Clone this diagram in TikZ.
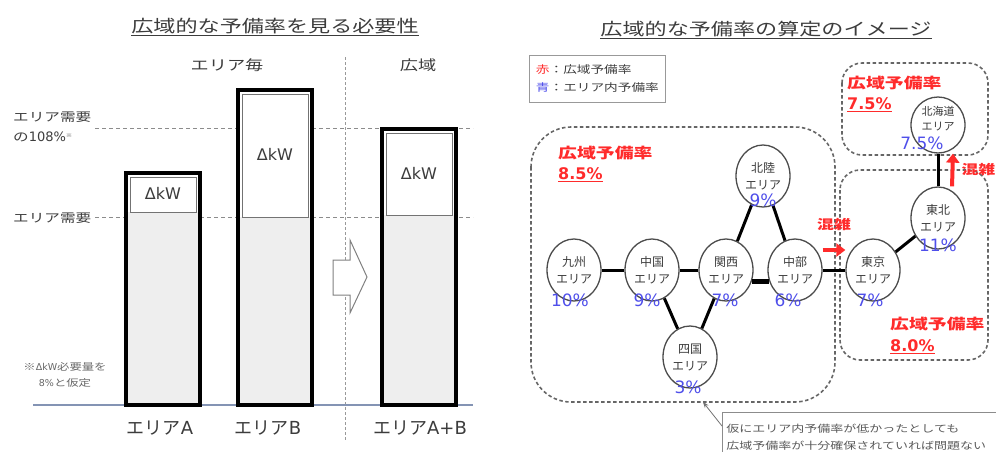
\documentclass[tikz,border=0pt]{standalone}
\usepackage{fontspec}
\setmainfont{DejaVu Sans}
\newfontfamily\jp{Noto Sans CJK JP}
\newfontfamily\jpw[FakeStretch=1.3]{Noto Sans CJK JP}
\usetikzlibrary{shapes.geometric,arrows.meta,positioning}
\definecolor{txtgray}{HTML}{3C3C3C}
\definecolor{jamred}{HTML}{FF2B2B}
\definecolor{pctblue}{HTML}{4F4FEA}
\definecolor{baseblue}{HTML}{8494B4}
\definecolor{barfill}{HTML}{EEEEEE}

\begin{document}
\begin{tikzpicture}[x=1pt,y=-1pt,on grid,
  heading/.style={font=\jpw\fontsize{17}{17}\selectfont,inner sep=0pt,text=txtgray},
  axislbl/.style={font=\jpw\fontsize{12}{16}\selectfont,inner sep=0pt,anchor=west,text=txtgray},
  guide/.style={black!45,line width=0.8pt,dash pattern=on 4pt off 3pt},
  bar/.style={line width=4pt},
  dkwbox/.style={draw=black!55,line width=1pt,fill=white},
  area/.style={ellipse,draw=black!70,line width=1.3pt,fill=white,minimum width=54pt,minimum height=62pt,
    inner sep=0pt,align=center,font=\jp\fontsize{12}{17}\selectfont,text=txtgray},
  pct/.style={font=\fontsize{17}{17}\selectfont,text=pctblue,inner sep=0pt},
  link/.style={line width=3pt},
  jam/.style={jamred,line width=4pt,-{Triangle[length=9pt,width=13pt]}},
  jamtxt/.style={font=\jpw\bfseries\fontsize{13}{13}\selectfont,text=jamred,inner sep=0pt},
  zone/.style={black!60,line width=1.6pt,dash pattern=on 3.5pt off 2.5pt,rounded corners=#1},
  ratehead/.style={font=\jpw\bfseries\fontsize{14.5}{14.5}\selectfont,text=jamred,inner sep=0pt,anchor=west},
  rateval/.style={font=\bfseries\fontsize{16}{16}\selectfont,text=jamred,inner sep=0pt},
]
\useasboundingbox (0,0) rectangle (996,451);

% ---- left: why a wide-area margin is needed
\node[heading] (titleL) at (275,26) {広域的な予備率を見る必要性};
\draw[txtgray,line width=0.8pt] ([yshift=-1pt]titleL.south west) -- ([yshift=-1pt]titleL.south east);
\node[heading,font=\jpw\fontsize{14}{14}\selectfont] (perarea) at (227,65) {エリア毎};
\node[heading,font=\jpw\fontsize{14}{14}\selectfont] (wide) at (418,65) {広域};
\draw[black!40,line width=0.8pt,dash pattern=on 3pt off 2pt] (345,57) -- (345,440);

\draw[guide] (95,128) -- (473,128);
\draw[guide] (95,217) -- (473,217);
\draw[baseblue,line width=1.2pt] (33,405) -- (473,405);
\node[axislbl] (lvlhi) at (13,117) {エリア需要};
\node[axislbl] (lvlhi2) at (13,137) {の{\normalfont\fontsize{13}{13}\selectfont 108\%}\textsuperscript{\tiny ※}};
\node[axislbl] (lvllo) at (13,218) {エリア需要};
\node[font=\jpw\fontsize{9.5}{16}\selectfont,text=black!60,align=center,inner sep=0pt] (note1) at (65,375)
  {※{\normalfont ΔkW}必要量を\\{\normalfont 8\%}と仮定};

\foreach \l/\t/\m/\n in {126/173/212/a,238/90/217/b,382/129/215/ab}{
  \fill[barfill] (\l,\m) rectangle (\l+74,405);
  \draw[dkwbox] (\l+4,\t+4) rectangle (\l+70,\m);
  \node[font=\fontsize{16}{16}\selectfont,text=txtgray] (dkw\n) at (\l+37,{(\t+\m)/2+1}) {ΔkW};
  \draw[bar] (\l,\t) rectangle (\l+74,405);
}
\draw[black!50,fill=white,line width=1pt] (333,260) -- (350,260) -- (350,240) -- (367,277)
  -- (350,313) -- (350,295) -- (333,295) -- cycle;

\node[font=\jp\fontsize{18}{18}\selectfont,text=txtgray] (barA) at (160,428) {エリア{\normalfont A}};
\node[font=\jp\fontsize{18}{18}\selectfont,text=txtgray] (barB) at (268,428) {エリア{\normalfont B}};
\node[font=\jp\fontsize{18}{18}\selectfont,text=txtgray] (barAB) at (420,428) {エリア{\normalfont A+B}};

% ---- right: wide-area margin by interconnected areas
\node[heading] (titleR) at (766,29) {広域的な予備率の算定のイメージ};
\draw[txtgray,line width=0.8pt] ([yshift=-1pt]titleR.south west) -- ([yshift=-1pt]titleR.south east);
\node[draw=black!40,line width=0.8pt,anchor=north west,minimum width=136pt,minimum height=47pt,align=left,
  inner sep=5pt,font=\jpw\fontsize{10.5}{18}\selectfont,text=txtgray] (key) at (529,55)
  {\textcolor{jamred}{赤}：広域予備率\\\textcolor{pctblue}{青}：エリア内予備率};

\draw[zone=40] (531,127) rectangle (835,402);
\draw[zone=20] (842,63) rectangle (988,155);
\draw[zone=20] (840,170) rectangle (988,360);

\node[area] (kyushu) at (574,270) {九州\\エリア};
\node[area,right=78pt of kyushu] (chugoku) {中国\\エリア};
\node[area,right=74pt of chugoku] (kansai) {関西\\エリア};
\node[area,right=69pt of kansai] (chubu) {中部\\エリア};
\node[area,right=78pt of chubu] (tokyo) {東京\\エリア};
\node[area,below right=87pt and 38pt of chugoku] (shikoku) {四国\\エリア};
\node[area,above right=94pt and 37pt of kansai] (hokuriku) {北陸\\エリア};
\node[area,above right=52pt and 65pt of tokyo] (tohoku) {東北\\エリア};
\node[area,above=93pt of tohoku,minimum height=56pt,font=\jp\fontsize{11}{15}\selectfont,text depth=13pt]
  (hokkaido) {北海道\\エリア};

\foreach \a/\b in {kyushu/chugoku,chugoku/kansai,chubu/tokyo,chugoku/shikoku,shikoku/kansai,
  kansai/hokuriku,hokuriku/chubu,tokyo/tohoku,tohoku/hokkaido}
  \draw[link] (\a) -- (\b);
\draw[line width=5pt] (kansai.-25) -- (chubu.205);

\foreach \n/\v/\dx/\dy in {kyushu/10/-4/1,chugoku/9/-5/1,kansai/7/-1/1,chubu/6/-7/1,tokyo/7/-3/1,
  shikoku/3/-2/1,hokuriku/9/0/7,tohoku/11/0/4,hokkaido/7.5/-16/10}
  \node[pct] at ([xshift=\dx pt,yshift=\dy pt]\n.south) {\v\%};

\draw[jam] ([yshift=20pt]chubu.east) -- ([yshift=20pt]tokyo.west)
  node[jamtxt,midway,above=17pt] {混雑};
\draw[jam] ([xshift=14pt]tohoku.north) -- ([xshift=15pt]hokkaido.south)
  node[jamtxt,midway,right=7pt,anchor=west] {混雑};

\node[ratehead] (rateW) at (558,153) {広域予備率};
\node[rateval,below=22pt of rateW.west,anchor=west] {\underline{8.5\%}};
\node[ratehead] (rateN) at (847,83) {広域予備率};
\node[rateval,below=22pt of rateN.west,anchor=west] {\underline{7.5\%}};
\node[ratehead] (rateE) at (890,324) {広域予備率};
\node[rateval,below=23pt of rateE.west,anchor=west] {\underline{8.0\%}};

\node[draw=black!45,line width=0.8pt,anchor=north west,text width=285pt,minimum height=50pt,align=left,
  inner sep=4pt,font=\jpw\fontsize{10}{17}\selectfont,text=black!65] (note2) at (722,412)
  {仮にエリア内予備率が低かったとしても\\広域予備率が十分確保されていれば問題ない};
\coordinate (gap) at (703,402);
\draw[black!55,line width=0.8pt,-{Stealth[length=6pt]}] ([yshift=-14pt]note2.north west) -- (gap);
\end{tikzpicture}
\end{document}
